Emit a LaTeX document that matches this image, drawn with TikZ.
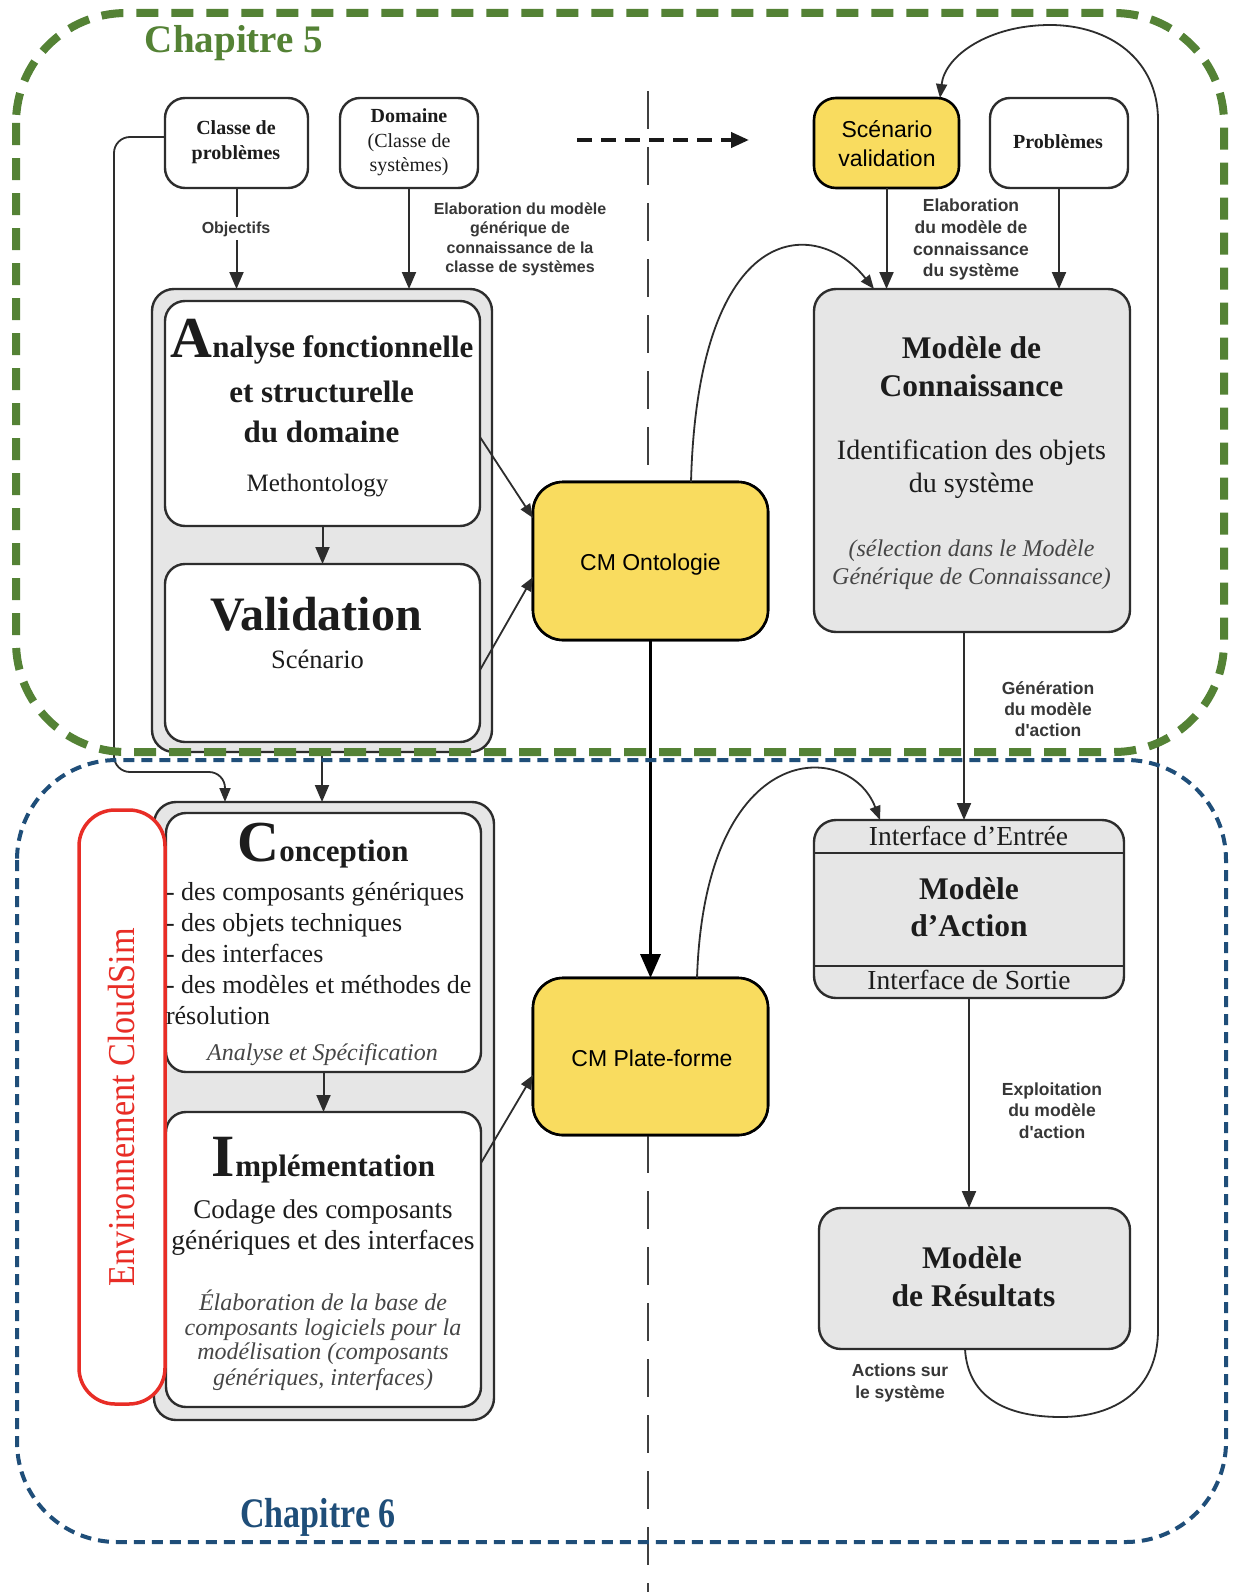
\documentclass[tikz,border=0pt]{standalone}
\usepackage{fontspec}
\usepackage{graphicx}
\setmainfont{Liberation Serif}
\newfontfamily\sansf{Liberation Sans}
\usetikzlibrary{arrows.meta,calc}

\definecolor{cmyellow}{RGB}{249,220,95}
\definecolor{chgreen}{RGB}{84,130,53}
\definecolor{chblue}{RGB}{31,78,121}
\definecolor{envred}{RGB}{232,45,38}
\definecolor{boxgray}{RGB}{230,230,230}
\definecolor{txtdark}{RGB}{28,28,28}
\definecolor{txtsub}{RGB}{70,70,70}
\definecolor{lblc}{RGB}{55,55,55}
\definecolor{edge}{RGB}{45,45,45}

\newcommand\fsz[2]{\fontsize{#1}{#2}\selectfont}

\begin{document}
\begin{tikzpicture}[x=1pt,y=-1pt,
  every node/.style={inner sep=0pt,outer sep=0pt},
  wbox/.style={draw=edge,line width=2.4pt,fill=white,rounded corners=20pt},
  gbox/.style={draw=edge,line width=2.4pt,fill=boxgray,rounded corners=22pt},
  ybox/.style={draw=black,line width=2.6pt,fill=cmyellow,rounded corners=30pt},
  sbox/.style={draw=black,line width=2.6pt,fill=cmyellow,rounded corners=22pt},
  rbox/.style={draw=envred,line width=3.5pt,fill=white,rounded corners=36pt},
  tl/.style={anchor=base,text=txtdark},
  tll/.style={anchor=base west,text=txtdark},
  labl/.style={anchor=base,text=lblc,font=\sansf\bfseries\fsz{16}{16}},
  labr/.style={anchor=base,text=lblc,font=\sansf\bfseries\fsz{17.5}{17.5}},
  arr/.style={draw=edge,line width=2pt,-{Triangle[length=17pt,width=14pt]}},
  sarr/.style={draw=edge,line width=1.8pt,-{Triangle[length=14pt,width=11pt]}},
  barr/.style={draw=black,line width=3.4pt,-{Triangle[length=24pt,width=20pt]}},
  sepline/.style={draw=black!75,line width=2.5pt,dash pattern=on 38pt off 18pt},
]
\useasboundingbox (0,0) rectangle (1233,1592);
\fill[white] (0,0) rectangle (1233,1592);

% boxes (the yellow CM boxes first, so the separator can be attached to them)
\node[ybox,minimum width=235pt,minimum height=158pt] (cmonto) at (650.5,561) {};
\node[ybox,minimum width=235pt,minimum height=157pt] (cmplat) at (650.5,1056.5) {};

% vertical separator (interrupted by the CM boxes and the arrow between them)
\coordinate (vsTop) at (648,91);
\coordinate (vsBot) at (648,1592);
\draw[sepline] (vsTop) -- (vsTop |- cmonto.north);
\draw[sepline] (vsBot |- cmplat.south) -- (vsBot);
\node[ybox,minimum width=235pt,minimum height=158pt] at (cmonto) {};
\node[ybox,minimum width=235pt,minimum height=157pt] at (cmplat) {};

% top dashed arrow
\coordinate (daA) at (577,140);
\coordinate (daB) at (749,140);
\draw[draw=black!90,line width=4pt,dash pattern=on 15pt off 9pt,-{Triangle[length=18pt,width=15pt]}] (daA) -- (daB);

\node[wbox,minimum width=143pt,minimum height=90pt] (classe) at (236.5,143) {};
\node[wbox,minimum width=138pt,minimum height=90pt] (domaine) at (409,143) {};
\node[gbox,minimum width=340pt,minimum height=463pt] (cont1) at (322,520.5) {};
\node[wbox,minimum width=315pt,minimum height=225pt] (analyse) at (322.5,413.5) {};
\node[wbox,minimum width=315pt,minimum height=178pt] (valid) at (322.5,653) {};
\node[sbox,minimum width=145pt,minimum height=90pt] (scen) at (886.5,143) {};
\node[wbox,minimum width=138pt,minimum height=90pt] (probl) at (1059,143) {};
\node[gbox,minimum width=316pt,minimum height=343pt] (modcon) at (972,460.5) {};
\node[gbox,minimum width=310pt,minimum height=178pt] (modact) at (969,909) {};
\node[gbox,minimum width=311pt,minimum height=141pt] (modres) at (974.5,1278.5) {};
\node[gbox,minimum width=340pt,minimum height=618pt] (cont2) at (324,1111) {};
\node[wbox,minimum width=315pt,minimum height=259pt] (concep) at (323.5,942.5) {};
\node[wbox,minimum width=315pt,minimum height=295pt] (impl) at (323.5,1259.5) {};
\node[rbox,minimum width=86pt,minimum height=594pt] (env) at (122,1107) {};

% separators in Modele d'Action
\draw[draw=edge,line width=2.2pt] ($(modact.north west)+(0,33)$) -- ($(modact.north east)+(0,33)$);
\draw[draw=edge,line width=2.2pt] ($(modact.south west)+(0,-32)$) -- ($(modact.south east)+(0,-32)$);

% arrows
\draw[arr] (classe.south) -- (classe.south |- cont1.north);
\draw[arr] (domaine.south) -- (domaine.south |- cont1.north);
\draw[arr] (analyse.south) -- (valid.north);
\draw[sarr] ($(analyse.east)+(0,23.5)$) -- ($(cmonto.west)+(0,-43)$);
\draw[sarr] ($(valid.east)+(0,17)$) -- ($(cmonto.west)+(0,16)$);
\draw[barr] (cmonto.south) -- (cmplat.north);
\draw[sarr] ($(impl.east)+(0,-96.5)$) -- ($(cmplat.west)+(0,18.5)$);
\draw[arr] (cont1.south) -- (cont1.south |- cont2.north);
\draw[arr] (concep.south) -- (impl.north);
\draw[arr] (scen.south) -- (scen.south |- modcon.north);
\draw[arr] (probl.south) -- (probl.south |- modcon.north);
\coordinate (mcS) at ([xshift=-8pt]modcon.south);
\draw[arr] (mcS) -- (mcS |- modact.north);
\draw[arr] (modact.south) -- (modact.south |- modres.north);

% curved arrows
\draw[sarr] ($(cmonto.north)+(40.5,0)$) .. controls (698,220) and (815,215) .. ($(modcon.north west)+(60,0)$);
\draw[sarr] ($(cmplat.north)+(46.5,0)$) .. controls (705,735) and (850,740) .. ($(modact.north west)+(66,0)$);

% feedback loop
\coordinate (lpA) at (1061,1417);
\coordinate (lpB) at (1158,1330);
\coordinate (lpC) at (1158,120);
\coordinate (lpD) at (1050,25);
\draw[sarr] ($(modres.south)+(-9.5,0)$) .. controls (968,1400) and (1010,1417) .. (lpA)
  .. controls (1115,1417) and (1158,1390) .. (lpB) -- (lpC)
  .. controls (1158,60) and (1110,25) .. (lpD)
  .. controls (990,25) and (945,55) .. ($(scen.north)+(53.5,0)$);

% left connector
\coordinate (lcA) at (114,137);
\coordinate (lcB) at (114,772);
\coordinate (lcC) at (225,772);
\draw[sarr,rounded corners=16pt] ($(classe.west)+(0,-6)$) -- (lcA) -- (lcB) -- (lcC) -- (lcC |- cont2.north);

% texts: top boxes
\node[tl,font=\bfseries\fsz{20}{20}] (tClasse1) at (236,135) {Classe de};
\node[tl,font=\bfseries\fsz{20}{20}] (tClasse2) at (236,159) {problèmes};
\node[tl,font=\bfseries\fsz{20}{20}] (tDom1) at (409,123) {Domaine};
\node[tl,font=\fsz{20}{20}] (tDom2) at (409,147) {(Classe de};
\node[tl,font=\fsz{20}{20}] (tDom3) at (409,171) {systèmes)};
\node[tl,font=\bfseries\fsz{20}{20}] (tPb) at (1058,149) {Problèmes};
\node[anchor=base,font=\sansf\fsz{23}{23}] (tSc1) at (887,138) {Scénario};
\node[anchor=base,font=\sansf\fsz{23}{23}] (tSc2) at (887,166) {validation};

% labels
\node[labl,fill=white,inner ysep=4pt] (tObj) at (236,233) {Objectifs};
\node[labl] (tEl1) at (520,214) {Elaboration du modèle};
\node[labl] (tEl2) at (520,233.5) {générique de};
\node[labl] (tEl3) at (520,253) {connaissance de la};
\node[labl] (tEl4) at (520,272.5) {classe de systèmes};
\node[labr] (tEr1) at (971,211) {Elaboration};
\node[labr] (tEr2) at (971,233) {du modèle de};
\node[labr] (tEr3) at (971,255) {connaissance};
\node[labr] (tEr4) at (971,276) {du système};
\node[labr] (tGe1) at (1048,694) {Génération};
\node[labr] (tGe2) at (1048,715) {du modèle};
\node[labr] (tGe3) at (1048,736) {d'action};
\node[labr] (tEx1) at (1052,1095) {Exploitation};
\node[labr] (tEx2) at (1052,1116) {du modèle};
\node[labr] (tEx3) at (1052,1138) {d'action};
\node[labr] (tAc1) at (900,1376) {Actions sur};
\node[labr] (tAc2) at (900,1398) {le système};

% analyse / validation
\node[tl,font=\bfseries\fsz{31}{31}] (tAn1) at (322,357) {{\fsz{58}{58}A}nalyse fonctionnelle};
\node[tl,font=\bfseries\fsz{31}{31}] (tAn2) at (321.5,402) {et structurelle};
\node[tl,font=\bfseries\fsz{31}{31}] (tAn3) at (321.5,442) {du domaine};
\node[tl,font=\fsz{25}{25}] (tAn4) at (317.5,491) {Methontology};
\node[tl,font=\bfseries\fsz{48}{48}] (tVal1) at (316,630) {Validation};
\node[tl,font=\fsz{26.5}{26.5}] (tVal2) at (317.5,668) {Scénario};

% CM boxes
\node[anchor=base,font=\sansf\fsz{23}{23}] (tCMo) at (650.5,570) {CM Ontologie};
\node[anchor=base,font=\sansf\fsz{23}{23}] (tCMp) at (652,1066) {CM Plate-forme};

% modele de connaissance
\node[tl,font=\bfseries\fsz{31.5}{31.5}] (tMc1) at (971.5,358) {Modèle de};
\node[tl,font=\bfseries\fsz{31.5}{31.5}] (tMc2) at (971.5,396) {Connaissance};
\node[tl,font=\fsz{28}{28}] (tMc3) at (971.5,459) {Identification des objets};
\node[tl,font=\fsz{28}{28}] (tMc4) at (971.5,492) {du système};
\node[tl,font=\itshape\fsz{24}{24},text=txtsub] (tMc5) at (971.5,556) {(sélection dans le Modèle};
\node[tl,font=\itshape\fsz{24}{24},text=txtsub] (tMc6) at (971.5,584) {Générique de Connaissance)};

% modele d'action
\node[tl,font=\fsz{27.5}{27.5}] (tMa1) at (968.5,845) {Interface d’Entrée};
\node[tl,font=\bfseries\fsz{31.5}{31.5}] (tMa2) at (969,899) {Modèle};
\node[tl,font=\bfseries\fsz{31.5}{31.5}] (tMa3) at (969,936) {d’Action};
\node[tl,font=\fsz{27.5}{27.5}] (tMa4) at (969,989) {Interface de Sortie};

% modele de resultats
\node[tl,font=\bfseries\fsz{31.5}{31.5}] (tMr1) at (972,1268) {Modèle};
\node[tl,font=\bfseries\fsz{31.5}{31.5}] (tMr2) at (973.5,1306) {de Résultats};

% conception
\node[tl,font=\bfseries\fsz{31}{31}] (tCo0) at (323,861) {{\fsz{58}{58}C}onception};
\node[tll,font=\fsz{26}{26}] (tCo1) at (166,900) {- des composants génériques};
\node[tll,font=\fsz{26}{26}] (tCo2) at (166,931) {- des objets techniques};
\node[tll,font=\fsz{26}{26}] (tCo3) at (166,962) {- des interfaces};
\node[tll,font=\fsz{26}{26}] (tCo4) at (166,993) {- des modèles et méthodes de};
\node[tll,font=\fsz{26}{26}] (tCo5) at (166,1024) {résolution};
\node[tl,font=\itshape\fsz{24}{24},text=txtsub] (tCo6) at (322.5,1060) {Analyse et Spécification};

% implementation
\node[tl,font=\bfseries\fsz{31}{31}] (tIm0) at (323.5,1176) {{\fsz{60}{60}I}mplémentation};
\node[tl,font=\fsz{27}{27}] (tIm1) at (323,1218) {Codage des composants};
\node[tl,font=\fsz{27.5}{27.5}] (tIm2) at (323,1249) {génériques et des interfaces};
\node[tl,font=\itshape\fsz{24}{24},text=txtsub] (tIm3) at (323,1310) {Élaboration de la base de};
\node[tl,font=\itshape\fsz{24}{24},text=txtsub] (tIm4) at (323,1335) {composants logiciels pour la};
\node[tl,font=\itshape\fsz{24}{24},text=txtsub] (tIm5) at (323,1359) {modélisation (composants};
\node[tl,font=\itshape\fsz{24}{24},text=txtsub] (tIm6) at (323,1385) {génériques, interfaces)};

% environnement
\node[rotate=90,text=envred,font=\fsz{38}{38}] (tEnv) at (122,1107) {\scalebox{0.9}[1]{Environnement CloudSim}};

% chapter frames
\draw[chgreen,line width=8pt,dash pattern=on 22pt off 13pt,rounded corners=110pt] (16,13) rectangle (1224,752);
\draw[chblue,line width=4pt,dash pattern=on 11pt off 7pt,rounded corners=100pt] (17,760) rectangle (1226,1542);
\node[anchor=base,text=chgreen,font=\bfseries\fsz{39}{39}] (ch5) at (234,53) {Chapitre 5};
\node[anchor=base,text=chblue,font=\bfseries\fsz{42}{42}] (ch6) at (318,1527) {\scalebox{0.81}[1]{Chapitre 6}};
\end{tikzpicture}
\end{document}
